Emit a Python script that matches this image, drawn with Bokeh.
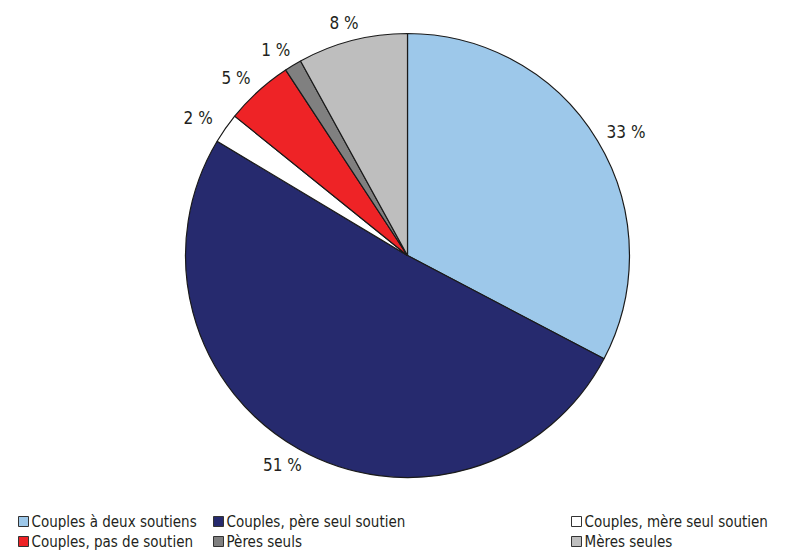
import math
from bokeh.plotting import figure
from bokeh.models import Range1d
from bokeh.core.properties import value
from bokeh.embed import file_html
from bokeh.resources import INLINE

categories = ["Couples à deux soutiens", "Couples, père seul soutien", "Couples, mère seul soutien",
              "Couples, pas de soutien", "Pères seuls", "Mères seules"]
shares = [32.7, 50.9, 2.2, 4.95, 1.25, 8.0]
labels = ["33 %", "51 %", "2 %", "5 %", "1 %", "8 %"]
colors = ["#9DC8EA", "#262A6E", "#FFFFFF", "#EE2326", "#808080", "#BEBEBE"]

FONT = "DejaVu Sans Condensed"
W, H = 805, 556
p = figure(width=W, height=H, output_backend="svg", toolbar_location=None,
           x_range=Range1d(0, W), y_range=Range1d(0, H), min_border=0)
p.axis.visible = False
p.grid.visible = False
p.outline_line_color = None

cx, cy, R = 407, H - 255, 222
RX, RY = 1.15 * R, 1.08 * R
total = sum(shares)
cum = 0.0
starts, ends, lx, ly = [], [], [], []
for s in shares:
    a0 = math.pi / 2 - 2 * math.pi * cum / total
    a1 = math.pi / 2 - 2 * math.pi * (cum + s) / total
    starts.append(a0)
    ends.append(a1)
    mid = (a0 + a1) / 2
    lx.append(cx + RX * math.cos(mid))
    ly.append(cy + RY * math.sin(mid))
    cum += s

p.wedge(x=cx, y=cy, radius=R, start_angle=starts, end_angle=ends, direction="clock",
        fill_color=colors, line_color="#1a1a1a", line_width=1.2)
p.text(x=lx, y=ly, text=labels, text_font=value(FONT), text_font_size="17px",
       text_color="#231F20", text_align="center", text_baseline="middle")

# legend, 3 columns x 2 rows
col_x = [18, 213, 571]
row_y = [H - 521, H - 541]
for i, (c, name) in enumerate(zip(colors, categories)):
    x = col_x[i % 3]
    y = row_y[i // 3]
    p.scatter(x=[x + 5], y=[y], marker="square", size=10, fill_color=c, line_color="#333333", line_width=1)
    p.text(x=[x + 13], y=[y], text=[name], text_font=value(FONT), text_font_size="15px",
           text_color="#231F20", text_align="left", text_baseline="middle")

open("out.html", "w").write(file_html(p, INLINE))
